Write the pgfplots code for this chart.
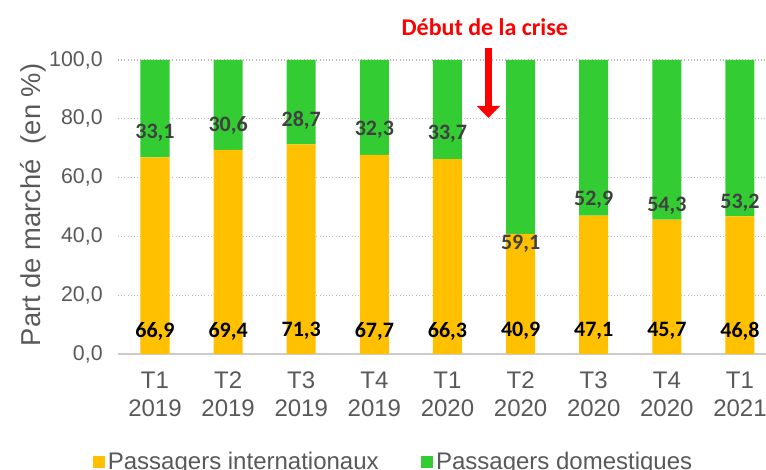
\documentclass[border=0pt]{standalone}
\usepackage{pgfplots}
\pgfplotsset{compat=1.18}
\usepackage{pgfplotstable}
\usepackage{fontspec}
\setmainfont{Liberation Sans}
\newfontfamily\calib{Carlito}
\usetikzlibrary{arrows.meta}
\definecolor{corange}{HTML}{FFC000}
\definecolor{cgreen}{HTML}{33CC33}
\definecolor{tickgray}{HTML}{595959}
\definecolor{labgray}{HTML}{404040}
\definecolor{cred}{HTML}{FF0000}

\pgfplotstableread{
x intl dom
0 66.9 33.1
1 69.4 30.6
2 71.3 28.7
3 67.7 32.3
4 66.3 33.7
5 40.9 59.1
6 47.1 52.9
7 45.7 54.3
8 46.8 53.2
}\shares

\pgfplotstableread{
x iy ilab dy dlab
0 7.8 {66,9} 75.2 {33,1}
1 7.8 {69,4} 77.6 {30,6}
2 7.8 {71,3} 79.3 {28,7}
3 7.8 {67,7} 76.2 {32,3}
4 7.8 {66,3} 74.8 {33,7}
5 7.8 {40,9} 37.5 {59,1}
6 7.8 {47,1} 52.4 {52,9}
7 7.8 {45,7} 50.3 {54,3}
8 7.8 {46,8} 51.4 {53,2}
}\labels

\begin{document}
\begin{tikzpicture}
\begin{axis}[
  at={(0,0)}, anchor=south west,
  scale only axis, width=486pt, height=220.5pt,
  ybar stacked, bar width=21.75pt,
  xmin=-0.506, xmax=8.356, ymin=0, ymax=100,
  xtick={0,...,8},
  xticklabels={{T1\\2019},{T2\\2019},{T3\\2019},{T4\\2019},{T1\\2020},{T2\\2020},{T3\\2020},{T4\\2020},{T1\\2021}},
  xticklabel style={align=center, font=\fontsize{18}{21}\selectfont, text=tickgray, yshift=-10pt},
  ytick={0,20,...,100},
  yticklabel style={font=\fontsize{16}{18}\selectfont, text=tickgray, xshift=-8pt},
  /pgf/number format/.cd, fixed, fixed zerofill, precision=1, use comma, assume math mode=true,
  /pgfplots/.cd,
  ymajorgrids, grid style={dotted, gray!55, line width=0.9pt},
  separate axis lines,
  axis x line*=bottom, axis y line*=left,
  x axis line style={-, draw=gray!40, line width=1.5pt},
  y axis line style={draw=none},
  tick style={draw=none},
  ylabel={Part de marché\ \ (en \%)},
  ylabel style={font=\fontsize{20.5}{22}\selectfont, text=tickgray, at={(axis description cs:-0.131,0.507)}, anchor=center},
  legend style={at={(0.426,-0.367)}, anchor=center, draw=none, legend columns=2,
    font=\fontsize{18}{20}\selectfont, text=tickgray,
    /tikz/every even column/.append style={column sep=30pt}},
  legend image code/.code={\fill[#1,draw=none] (0pt,-4.5pt) rectangle (9pt,4.5pt);},
]
\addplot[fill=corange, draw=none] table[x=x, y=intl] {\shares};
\addlegendentry{Passagers internationaux}
\addplot[fill=cgreen, draw=none] table[x=x, y=dom] {\shares};
\addlegendentry{Passagers domestiques}
\end{axis}
\begin{axis}[
  at={(0,0)}, anchor=south west,
  scale only axis, width=486pt, height=220.5pt,
  xmin=-0.506, xmax=8.356, ymin=0, ymax=100,
  hide axis, clip=false,
]
\addplot[draw=none, mark=none, nodes near coords, point meta=explicit symbolic,
  every node near coord/.style={anchor=center, font=\calib\bfseries\fontsize{16.5}{18}\selectfont, text=black}]
  table[x=x, y=iy, meta=ilab] {\labels};
\addplot[draw=none, mark=none, nodes near coords, point meta=explicit symbolic,
  every node near coord/.style={anchor=center, font=\calib\bfseries\fontsize{16.5}{18}\selectfont, text=labgray}]
  table[x=x, y=dy, meta=dlab] {\labels};
\node[font=\calib\bfseries\fontsize{18}{20}\selectfont, text=cred] at (axis cs:4.51,111.2) {Début de la crise};
\draw[cred, line width=5pt, -{Triangle[width=17pt,length=9pt]}] (axis cs:4.56,104.2) -- (axis cs:4.56,80.3);
\end{axis}
\pgfresetboundingbox
\useasboundingbox (-88.5pt,-87pt) rectangle (486pt,265.5pt);
\end{tikzpicture}
\end{document}
